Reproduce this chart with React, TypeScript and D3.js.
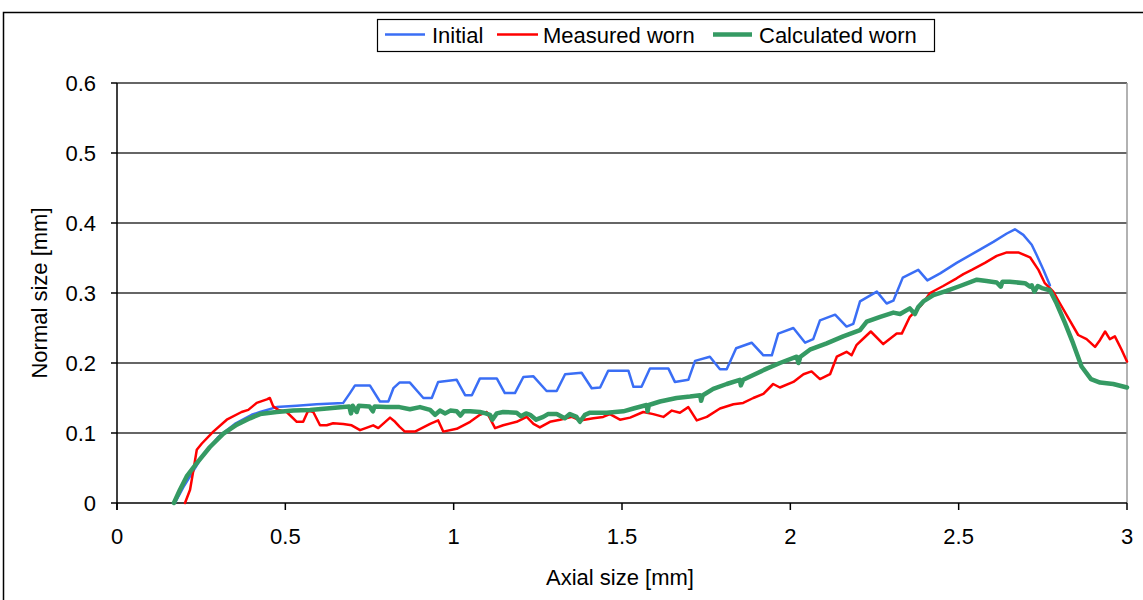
import React from "react";
import * as d3 from "d3";

const xTicks = [0, 0.5, 1, 1.5, 2, 2.5, 3];
const yTicks = [0, 0.1, 0.2, 0.3, 0.4, 0.5, 0.6];
const seriesNames = ["Initial", "Measured worn", "Calculated worn"];
const seriesColors = ["#3a6ef5", "#ff0000", "#359a63"];

const initial: [number, number][] = [
  [0.172, 0.0], [0.2, 0.025], [0.25, 0.064], [0.3, 0.094], [0.35, 0.113], [0.4, 0.126],
  [0.425, 0.13], [0.474, 0.137], [0.534, 0.139], [0.593, 0.141], [0.672, 0.143], [0.692, 0.157],
  [0.707, 0.168], [0.751, 0.168], [0.781, 0.145], [0.806, 0.145], [0.821, 0.164], [0.839, 0.172],
  [0.87, 0.172], [0.91, 0.15], [0.935, 0.15], [0.954, 0.173], [1.009, 0.176], [1.034, 0.154],
  [1.054, 0.154], [1.078, 0.178], [1.128, 0.178], [1.152, 0.157], [1.182, 0.157], [1.207, 0.18],
  [1.237, 0.181], [1.276, 0.16], [1.306, 0.16], [1.331, 0.184], [1.38, 0.186], [1.41, 0.164],
  [1.435, 0.165], [1.459, 0.189], [1.519, 0.189], [1.534, 0.166], [1.558, 0.166], [1.583, 0.192],
  [1.638, 0.192], [1.657, 0.173], [1.697, 0.176], [1.717, 0.203], [1.761, 0.209], [1.791, 0.191],
  [1.811, 0.191], [1.839, 0.221], [1.885, 0.229], [1.92, 0.211], [1.945, 0.211], [1.964, 0.242],
  [2.009, 0.25], [2.044, 0.229], [2.068, 0.234], [2.088, 0.261], [2.133, 0.269], [2.167, 0.252],
  [2.187, 0.256], [2.207, 0.288], [2.257, 0.302], [2.286, 0.285], [2.306, 0.289], [2.334, 0.322],
  [2.38, 0.333], [2.407, 0.318], [2.445, 0.328], [2.494, 0.343], [2.563, 0.362], [2.603, 0.373],
  [2.643, 0.385], [2.667, 0.391], [2.692, 0.383], [2.717, 0.369], [2.732, 0.354], [2.752, 0.333],
  [2.771, 0.311],
];

const measured: [number, number][] = [
  [0.202, 0.0], [0.217, 0.019], [0.227, 0.047], [0.237, 0.076], [0.252, 0.085], [0.286, 0.102],
  [0.326, 0.119], [0.37, 0.13], [0.39, 0.133], [0.415, 0.143], [0.445, 0.148], [0.454, 0.15],
  [0.464, 0.138], [0.479, 0.133], [0.504, 0.13], [0.534, 0.116], [0.553, 0.116], [0.568, 0.132],
  [0.583, 0.13], [0.603, 0.111], [0.623, 0.111], [0.642, 0.114], [0.672, 0.113], [0.697, 0.111],
  [0.722, 0.104], [0.761, 0.111], [0.776, 0.107], [0.811, 0.122], [0.826, 0.116], [0.839, 0.109],
  [0.855, 0.102], [0.885, 0.102], [0.93, 0.113], [0.954, 0.118], [0.969, 0.102], [1.009, 0.106],
  [1.049, 0.116], [1.078, 0.126], [1.098, 0.13], [1.123, 0.107], [1.147, 0.111], [1.187, 0.116],
  [1.217, 0.123], [1.237, 0.113], [1.256, 0.108], [1.286, 0.116], [1.316, 0.119], [1.351, 0.123],
  [1.375, 0.118], [1.415, 0.121], [1.444, 0.123], [1.464, 0.127], [1.494, 0.119], [1.524, 0.122],
  [1.563, 0.13], [1.593, 0.127], [1.623, 0.123], [1.648, 0.132], [1.672, 0.129], [1.697, 0.137],
  [1.722, 0.118], [1.752, 0.123], [1.791, 0.135], [1.831, 0.141], [1.86, 0.143], [1.89, 0.15],
  [1.92, 0.156], [1.949, 0.17], [1.969, 0.165], [2.009, 0.173], [2.039, 0.184], [2.063, 0.188],
  [2.088, 0.177], [2.118, 0.184], [2.138, 0.209], [2.167, 0.216], [2.182, 0.211], [2.197, 0.226],
  [2.217, 0.235], [2.239, 0.245], [2.276, 0.227], [2.316, 0.242], [2.331, 0.242], [2.355, 0.266],
  [2.39, 0.283], [2.415, 0.3], [2.454, 0.31], [2.494, 0.321], [2.514, 0.327], [2.539, 0.333],
  [2.578, 0.343], [2.613, 0.353], [2.643, 0.358], [2.677, 0.358], [2.712, 0.351], [2.737, 0.333],
  [2.756, 0.314], [2.781, 0.302], [2.801, 0.285], [2.826, 0.264], [2.855, 0.24], [2.88, 0.234],
  [2.905, 0.223], [2.92, 0.233], [2.935, 0.245], [2.949, 0.234], [2.964, 0.238], [2.984, 0.219],
  [3.0, 0.202],
];

const calculated: [number, number][] = [
  [0.169, 0.0], [0.187, 0.019], [0.207, 0.038], [0.237, 0.057], [0.276, 0.08], [0.316, 0.099],
  [0.356, 0.112], [0.395, 0.121], [0.425, 0.127], [0.474, 0.13], [0.524, 0.132], [0.573, 0.133],
  [0.623, 0.135], [0.672, 0.137], [0.69, 0.138], [0.695, 0.128], [0.7, 0.139], [0.712, 0.13],
  [0.718, 0.139], [0.75, 0.138], [0.76, 0.131], [0.765, 0.138], [0.8, 0.137], [0.839, 0.137],
  [0.87, 0.134], [0.9, 0.137], [0.93, 0.133], [0.945, 0.126], [0.959, 0.132], [0.975, 0.128],
  [0.99, 0.132], [1.009, 0.131], [1.02, 0.125], [1.03, 0.131], [1.049, 0.131], [1.078, 0.13],
  [1.095, 0.128], [1.108, 0.126], [1.115, 0.119], [1.128, 0.128], [1.147, 0.13], [1.187, 0.129],
  [1.2, 0.124], [1.215, 0.128], [1.227, 0.126], [1.245, 0.119], [1.266, 0.123], [1.28, 0.127],
  [1.306, 0.127], [1.33, 0.121], [1.345, 0.127], [1.365, 0.123], [1.375, 0.116], [1.39, 0.126],
  [1.405, 0.129], [1.455, 0.129], [1.504, 0.131], [1.534, 0.135], [1.573, 0.14], [1.576, 0.131],
  [1.58, 0.14], [1.613, 0.145], [1.662, 0.15], [1.702, 0.152], [1.732, 0.154], [1.735, 0.146],
  [1.74, 0.154], [1.771, 0.163], [1.811, 0.17], [1.85, 0.176], [1.853, 0.168], [1.86, 0.176],
  [1.89, 0.183], [1.93, 0.192], [1.969, 0.2], [2.019, 0.209], [2.024, 0.2], [2.03, 0.209],
  [2.058, 0.219], [2.108, 0.228], [2.157, 0.238], [2.207, 0.247], [2.227, 0.259], [2.267, 0.266],
  [2.306, 0.272], [2.326, 0.27], [2.355, 0.278], [2.37, 0.27], [2.38, 0.28], [2.395, 0.288],
  [2.425, 0.297], [2.464, 0.303], [2.504, 0.31], [2.554, 0.319], [2.583, 0.317], [2.613, 0.315],
  [2.625, 0.309], [2.63, 0.316], [2.652, 0.316], [2.697, 0.314], [2.712, 0.309], [2.717, 0.311],
  [2.725, 0.302], [2.735, 0.31], [2.747, 0.307], [2.771, 0.304], [2.791, 0.285], [2.816, 0.257],
  [2.84, 0.228], [2.865, 0.195], [2.893, 0.177], [2.92, 0.172], [2.959, 0.17], [3.0, 0.165],
];

export default function App() {
  const W = 1143;
  const H = 600;
  const left = 117;
  const right = 1127;
  const top = 83;
  const bottom = 503;
  const x = d3.scaleLinear().domain([0, 3]).range([left, right]);
  const y = d3.scaleLinear().domain([0, 0.6]).range([bottom, top]);
  const line = d3
    .line<[number, number]>()
    .x((d) => x(d[0]))
    .y((d) => y(d[1]));
  const font = "'Liberation Sans', Arial, sans-serif";
  const fs = 22;

  const series = [initial, measured, calculated];
  const widths = [2.5, 2.5, 4.5];

  const legendItems = [
    { x1: 385, x2: 425, tx: 432 },
    { x1: 497, x2: 538, tx: 543 },
    { x1: 713, x2: 752, tx: 759 },
  ];

  return (
    <svg
      width={W}
      height={H}
      style={{ position: "absolute", left: 0, top: 0, background: "#fff" }}
      fontFamily={font}
    >
      <rect x={0} y={0} width={W} height={H} fill="#fff" />
      {/* outer chart border */}
      <rect x={3.5} y={12.5} width={W + 20} height={H + 20} fill="none" stroke="#000" strokeWidth={1.5} />

      {/* gridlines */}
      {yTicks.slice(1).map((t) => (
        <line key={"g" + t} x1={left} x2={right} y1={y(t)} y2={y(t)} stroke="#333" strokeWidth={1.6} />
      ))}
      {/* right plot edge */}
      <line x1={right} x2={right} y1={top} y2={bottom} stroke="#999" strokeWidth={1.5} />

      {/* y axis */}
      <line x1={left} x2={left} y1={top} y2={bottom + 7} stroke="#000" strokeWidth={1.5} />
      {yTicks.map((t) => (
        <g key={"y" + t}>
          <line x1={left - 6} x2={left} y1={y(t)} y2={y(t)} stroke="#000" strokeWidth={1.5} />
          <text x={left - 21} y={y(t)} dy="0.36em" textAnchor="end" fontSize={fs}>
            {String(t)}
          </text>
        </g>
      ))}
      {/* x axis */}
      <line x1={left} x2={right} y1={bottom} y2={bottom} stroke="#000" strokeWidth={1.5} />
      {xTicks.map((t) => (
        <g key={"x" + t}>
          <line x1={x(t)} x2={x(t)} y1={bottom} y2={bottom + 7} stroke="#000" strokeWidth={1.5} />
          <text x={x(t)} y={544} textAnchor="middle" fontSize={fs}>
            {String(t)}
          </text>
        </g>
      ))}

      {/* series */}
      {series.map((s, i) => (
        <path
          key={"s" + i}
          d={line(s) || ""}
          fill="none"
          stroke={seriesColors[i]}
          strokeWidth={widths[i]}
          strokeLinejoin="round"
          strokeLinecap="round"
        />
      ))}

      {/* axis titles */}
      <text x={620} y={585} textAnchor="middle" fontSize={fs}>
        Axial size [mm]
      </text>
      <text transform={`translate(47,293) rotate(-90)`} textAnchor="middle" fontSize={fs}>
        Normal size [mm]
      </text>

      {/* legend */}
      <rect x={377.5} y={19.5} width={557} height={32} fill="#fff" stroke="#000" strokeWidth={1.2} />
      {legendItems.map((it, i) => (
        <g key={"l" + i}>
          <line x1={it.x1} x2={it.x2} y1={34.5} y2={34.5} stroke={seriesColors[i]} strokeWidth={widths[i]} />
          <text x={it.tx} y={43} fontSize={fs}>
            {seriesNames[i]}
          </text>
        </g>
      ))}
    </svg>
  );
}
